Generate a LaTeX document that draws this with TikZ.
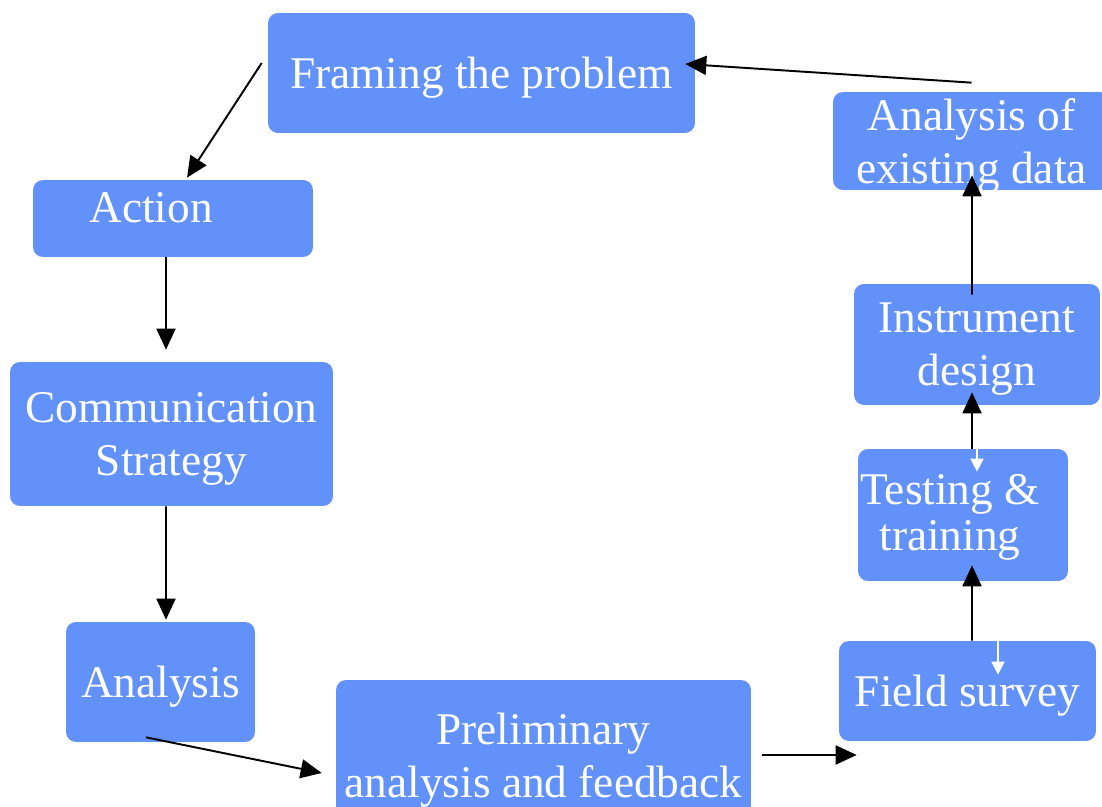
\documentclass[tikz,border=0pt]{standalone}
\usepackage{fontspec}
\setmainfont{Liberation Serif}
\usetikzlibrary{arrows.meta,calc}

\definecolor{boxblue}{RGB}{99,145,250}

\tikzset{
  box/.style={fill=boxblue,rounded corners=0.2cm,text=white,align=center,
    font=\fontsize{25.8}{30}\selectfont,inner sep=0pt,text depth=0pt},
  lbl/.style={text=white,align=center,font=\fontsize{25.8}{30}\selectfont,inner sep=0pt},
  arr/.style={line width=1.1pt,-{Triangle[length=0.42cm,width=0.38cm]}},
  warr/.style={white,line width=1pt,-{Triangle[length=0.26cm,width=0.26cm]}}
}

\begin{document}
\begin{tikzpicture}[x=0.02cm,y=-0.02cm]
  \clip (0,0) rectangle (1102,807);

  % boxes
  \node[box,minimum width=8.54cm,minimum height=2.4cm] (framing) at (481.5,73) {Framing the problem};
  \node[box,minimum width=5.6cm,minimum height=1.54cm] (action) at (173,218.5) {};
  \node[lbl] (actionlbl) at (151,208) {Action};
  \node[box,minimum width=6.46cm,minimum height=2.88cm] (comm) at (171.5,434) {Communication\\Strategy};
  \node[box,minimum width=3.78cm,minimum height=2.4cm] (analysis) at (160.5,682) {Analysis};
  \node[box,minimum width=8.3cm,minimum height=3cm] (prelim) at (543.5,755) {Preliminary\\analysis and feedback};
  \node[box,minimum width=5.14cm,minimum height=2cm] (field) at (967.5,691) {Field survey};
  \node[box,minimum width=4.2cm,minimum height=2.64cm] (testing) at (963,515) {};
  \node[lbl] (testinglbl) at (950,517) {Testing \&\\[-4pt]training};
  \node[box,minimum width=4.92cm,minimum height=2.42cm] (instrument) at (977,344.5) {Instrument\\design};
  \node[box,minimum width=5.54cm,minimum height=1.96cm] (existing) at (971.5,141) {Analysis of\\existing data};

  % connectors
  \draw[arr] ($(existing.north)+(0,-9)$) -- ($(framing.east)+(-10,-9)$);
  \draw[arr] ($(framing.west)+(-6,-10)$) -- ($(action.north)+(14,-2)$);
  \draw[arr] ($(action.south)+(-7,0)$) -- ($(comm.north)+(-5.5,-12)$);
  \draw[arr] ($(comm.south)+(-5.5,0)$) -- ($(analysis.north)+(5.5,-2)$);
  \draw[arr] ($(analysis.south)+(-14.5,-5)$) -- ($(prelim.west)+(-14,18)$);
  \draw[arr] ($(prelim.east)+(11,0)$) -- ($(field.west)+(18,64)$);
  \draw[arr] ($(field.north)+(4.5,0)$) -- ($(testing.south)+(9,-16)$);
  \draw[arr] ($(testing.north)+(9,0)$) -- ($(instrument.south)+(-5,-13)$);
  \draw[arr] ($(instrument.north)+(-5,11)$) -- ($(existing.south)+(0.5,-15)$);

  \draw[warr] ($(field.north)+(30.5,0)$) -- ($(field.north)+(30.5,34)$);
  \draw[warr] ($(testing.north)+(14,0)$) -- ($(testing.north)+(14,23)$);
\end{tikzpicture}
\end{document}
